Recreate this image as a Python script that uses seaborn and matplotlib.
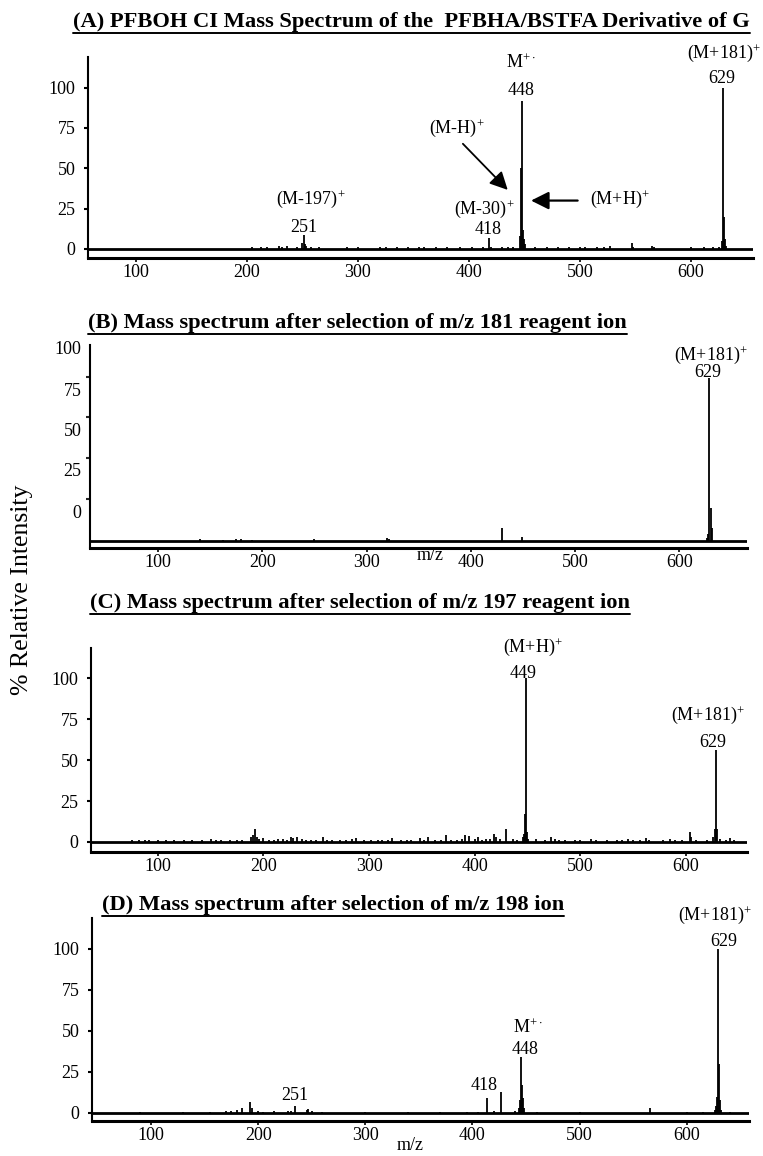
import numpy as np
import pandas as pd
import matplotlib
matplotlib.use("Agg")
import matplotlib.pyplot as plt
import seaborn as sns
from matplotlib.lines import Line2D

sns.set_theme(style="white")
plt.rcParams['font.family'] = ['Liberation Serif', 'DejaVu Serif']
plt.rcParams['mathtext.fontset'] = 'custom'
plt.rcParams['mathtext.rm'] = 'Liberation Serif'
plt.rcParams['mathtext.it'] = 'Liberation Serif:italic'
plt.rcParams['mathtext.bf'] = 'Liberation Serif:bold'

# ---------------- data ----------------
titles = [
    "(A) PFBOH CI Mass Spectrum of the  PFBHA/BSTFA Derivative of G",
    "(B) Mass spectrum after selection of m/z 181 reagent ion",
    "(C) Mass spectrum after selection of m/z 197 reagent ion",
    "(D) Mass spectrum after selection of m/z 198 ion",
]
x_ticks = [100, 200, 300, 400, 500, 600]
y_tick_labels = ["0", "25", "50", "75", "100"]

mz_a = [205, 213, 218, 229, 232, 236, 245, 250, 251, 252, 253, 258, 265, 290, 300, 320, 325,
        335, 345, 355, 360, 370, 380, 392, 403, 413, 418, 420, 430, 435, 440, 446, 447, 448,
        449, 450, 451, 460, 470, 480, 490, 500, 505, 515, 522, 527, 547, 548, 565, 567, 600,
        612, 620, 625, 628, 629, 630, 631, 632]
int_a = [1, 1, 1, 2, 1.5, 2, 1, 4, 8.5, 3, 2, 1, 1, 1, 1, 1.5, 1,
         1.5, 1, 1.5, 1, 1, 1.5, 1, 1, 1, 7, 1, 1, 1, 1.5, 8, 50, 92,
         12, 6, 3, 1, 1, 1.5, 1, 1, 1, 1.5, 1.5, 2, 4, 1, 2, 1.5, 1,
         1, 1, 1, 5, 100, 20, 6, 2]

mz_b = [140, 162, 175, 180, 190, 250, 320, 322, 430, 449, 627, 628, 629, 630, 631]
int_b = [1, 0.8, 1.5, 1, 0.5, 1.5, 1.8, 1, 8, 2.5, 2, 4, 100, 20, 8]

mz_c = [75, 82, 88, 92, 100, 108, 115, 125, 132, 142, 150, 155, 160, 168, 175, 180, 188, 190,
        192, 194, 196, 200, 205, 210, 214, 218, 222, 226, 228, 232, 236, 240, 245, 250, 256,
        260, 265, 272, 278, 284, 288, 295, 302, 308, 312, 318, 322, 330, 336, 340, 348, 352,
        356, 362, 368, 373, 378, 383, 388, 391, 395, 400, 403, 407, 411, 415, 418, 420, 424,
        430, 436, 440, 446, 447, 448, 449, 450, 451, 458, 467, 472, 476, 480, 486, 495, 500,
        510, 515, 525, 535, 540, 545, 550, 557, 562, 565, 578, 585, 590, 596, 604, 605, 610,
        620, 626, 628, 629, 630, 632, 638, 642, 646]
int_c = [1, 1.5, 1, 1, 1.2, 1, 1, 1.5, 1, 1.5, 2, 1, 1.5, 1, 1.5, 1, 3, 4,
         8, 3, 2, 2.5, 1, 1, 2, 2, 1.5, 3, 2.5, 3, 2, 1, 1, 1.5, 3,
         1.5, 1, 1, 1, 2, 2.5, 1, 1, 1.5, 1, 1, 2.5, 1, 1.5, 1, 2.5, 1,
         3, 1, 1, 4, 1, 1.5, 2, 4, 3.5, 2, 3, 1.5, 2, 2, 5, 3, 2,
         8, 2, 1, 3, 5, 17, 100, 6, 2, 2, 1, 3, 2, 1.5, 1, 1, 1,
         2, 1, 1, 1, 1.5, 2, 1, 1.5, 2.5, 1, 1, 2, 1, 1.5, 6, 3, 1.5,
         1, 3, 8, 56, 8, 2, 1, 2.5, 1]

mz_d = [90, 130, 155, 170, 175, 180, 185, 192, 194, 200, 205, 215, 228, 231, 234, 246, 247,
        250, 260, 300, 340, 370, 395, 405, 414, 420, 427, 440, 443, 444, 445, 446, 447, 448,
        460, 500, 566, 600, 615, 626, 627, 628, 629, 630, 631, 632, 640]
int_d = [0.5, 0.5, 0.5, 1, 1.5, 2, 3, 6.5, 3, 1, 0.8, 1, 1.5, 1.5, 4, 2, 2.5,
         1, 0.5, 0.5, 0.5, 0.8, 0.8, 0.8, 9, 1, 13, 1.5, 3, 8, 34, 17, 9, 3,
         0.5, 0.5, 3, 0.5, 0.5, 2, 4, 10, 100, 30, 8, 2, 0.5]

# ---------------- layout ----------------
W, H = 763, 1156
fig = plt.figure(figsize=(W / 100, H / 100), dpi=100)
fig.patch.set_facecolor("white")


def px_axes(left, right, top, bottom):
    return fig.add_axes([left / W, 1 - bottom / H, (right - left) / W, (bottom - top) / H])


TICK_FS = 13
ANN_FS = 13


def style_axes(ax, xlim, ylim):
    ax.set_xlim(*xlim)
    ax.set_ylim(*ylim)
    ax.set_facecolor("white")
    sns.despine(ax=ax)
    ax.spines['left'].set_linewidth(1.5)
    ax.spines['bottom'].set_linewidth(2.2)
    ax.spines['left'].set_color('black')
    ax.spines['bottom'].set_color('black')
    ax.set_xticks(x_ticks)
    ax.set_xticklabels([str(v) for v in x_ticks])
    ax.tick_params(axis='x', direction='out', length=3, width=1.2, pad=1, labelsize=TICK_FS,
                   colors='black', bottom=True)
    ax.tick_params(axis='y', direction='out', length=3, width=1.5, pad=6, labelsize=TICK_FS,
                   colors='black', left=True)
    ax.grid(False)


def draw_spectrum(ax, mz, inten):
    df = pd.DataFrame({"mz": mz, "intensity": inten})
    ax.vlines(df["mz"], 0, df["intensity"], color="black", lw=1.3)
    ax.axhline(0, color="black", lw=2.0)


def ann(ax, x, y, s, **kw):
    kw.setdefault("va", "center")
    ax.text(x, y, s, ha="center", fontsize=ANN_FS, color="black", clip_on=False, **kw)


# ---- Panel A ----
axA = px_axes(88, 753, 57, 258)
style_axes(axA, (56.8, 656), (-5.6, 119))
axA.set_yticks([0, 25, 50, 75, 100])
axA.set_yticklabels(y_tick_labels)
draw_spectrum(axA, mz_a, int_a)
ann(axA, 447, 115.5, r"M$^{+\cdot}$")
ann(axA, 447, 98, "448")
ann(axA, 630, 121.7, r"(M+181)$^{+}$")
ann(axA, 628, 105.6, "629")
ann(axA, 389, 75, r"(M-H)$^{+}$")
ann(axA, 536, 31, r"(M+H)$^{+}$")
ann(axA, 257.7, 31, r"(M-197)$^{+}$")
ann(axA, 251.4, 13, "251")
ann(axA, 413.5, 24.8, r"(M-30)$^{+}$")
ann(axA, 417, 11.8, "418")
axA.annotate("", xy=(435, 36.6), xytext=(394.6, 65.2),
             arrowprops=dict(arrowstyle="-|>,head_length=0.9,head_width=0.45",
                             color="black", lw=1.3, shrinkA=0, shrinkB=0))
axA.annotate("", xy=(456, 30), xytext=(498, 30),
             arrowprops=dict(arrowstyle="-|>,head_length=0.9,head_width=0.45",
                             color="black", lw=1.6, shrinkA=0, shrinkB=0))

# ---- Panel B ----
axB = px_axes(90, 747, 345, 548)
style_axes(axB, (34.7, 665), (-4.3, 120))
# labels sit slightly below their tick marks in the original
axB.set_yticks([17.8, 43.6, 68, 92.6, 118.4])
axB.set_yticklabels(y_tick_labels)
axB.tick_params(axis='y', which='major', length=0)
axB.set_yticks([25.8, 51, 76, 100.6], minor=True)
axB.tick_params(axis='y', which='minor', direction='out', length=3, width=1.5, left=True)
draw_spectrum(axB, mz_b, int_b)
ann(axB, 630.7, 114, r"(M+181)$^{+}$")
ann(axB, 627.8, 103, "629")
ann(axB, 361, -8.6, "m/z")

# ---- Panel C ----
axC = px_axes(91, 747, 648, 852)
style_axes(axC, (36.6, 658), (-6.1, 118.3))
axC.set_yticks([0, 25, 50, 75, 100])
axC.set_yticklabels(y_tick_labels)
draw_spectrum(axC, mz_c, int_c)
ann(axC, 455, 119, r"(M+H)$^{+}$")
ann(axC, 446, 103, "449")
ann(axC, 620.8, 77.4, r"(M+181)$^{+}$")
ann(axC, 625.6, 60.4, "629")

# ---- Panel D ----
axD = px_axes(92, 749, 918, 1121)
style_axes(axD, (45, 658), (-4.9, 118.9))
axD.set_yticks([0, 25, 50, 75, 100])
axD.set_yticklabels(y_tick_labels)
draw_spectrum(axD, mz_d, int_d)
ann(axD, 626, 120.7, r"(M+181)$^{+}$")
ann(axD, 634.5, 104.3, "629")
ann(axD, 451.7, 51.8, r"M$^{+\cdot}$")
ann(axD, 449, 38.4, "448")
ann(axD, 410.6, 17, "418")
ann(axD, 234, 10.4, "251")
ann(axD, 342, -19.8, "m/z")

# ---- titles (bold, underlined) ----
title_pos = [(73, 22), (88, 323), (90, 603), (102, 905)]
title_artists = []
for (tx, ty), t in zip(title_pos, titles):
    ta = fig.text(tx / W, 1 - ty / H, t, ha="left", va="center", fontsize=16.2,
                  fontweight="bold", color="black")
    title_artists.append(ta)

fig.text(22 / W, 1 - 590 / H, "% Relative Intensity", rotation=90, ha="center", va="center",
         fontsize=18.5, color="black")

fig.canvas.draw()
renderer = fig.canvas.get_renderer()
inv = fig.transFigure.inverted()
for ta in title_artists:
    bb = ta.get_window_extent(renderer=renderer)
    x0, y0 = inv.transform((bb.x0, bb.y0 - 1))
    x1, _ = inv.transform((min(bb.x1, W), bb.y0 - 1))
    fig.add_artist(Line2D([x0, x1], [y0, y0], transform=fig.transFigure, color="black", lw=1.4))

fig.savefig("out.png", dpi=100, facecolor="white")
